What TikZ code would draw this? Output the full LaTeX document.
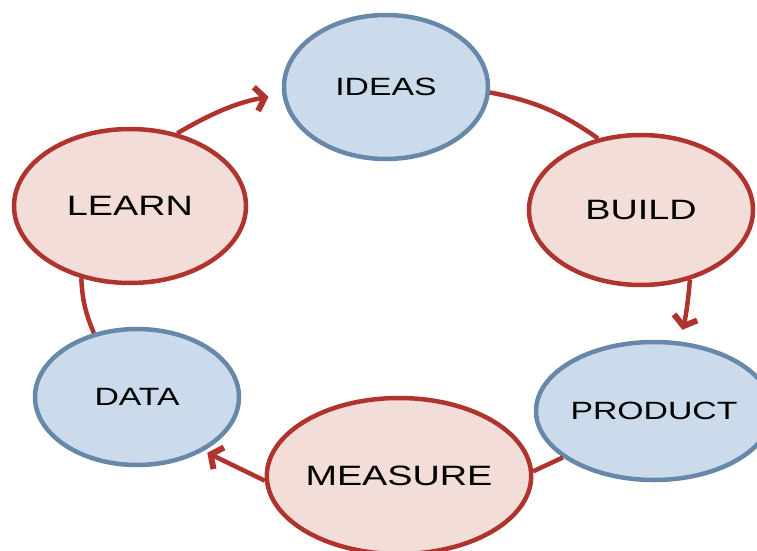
\documentclass[tikz,border=0pt]{standalone}
\usepackage{fontspec}
\setmainfont{Liberation Sans}
\usepackage{graphicx}
\usetikzlibrary{arrows.meta,shapes.geometric,positioning}

\definecolor{redline}{RGB}{176,52,46}
\definecolor{redfill}{RGB}{242,221,216}
\definecolor{blueline}{RGB}{104,136,170}
\definecolor{bluefill}{RGB}{203,219,236}
\newcommand{\wtext}[1]{\scalebox{1.35}[1]{#1}}

\begin{document}
\begin{tikzpicture}[x=1pt,y=1pt,line width=4.5pt,
    redcirc/.style={ellipse,draw=redline,fill=redfill,inner sep=0pt,font=\fontsize{28}{28}\selectfont},
    bluecirc/.style={ellipse,draw=blueline,fill=bluefill,inner sep=0pt,font=\fontsize{25}{25}\selectfont},
    link/.style={draw=redline,line width=4.5pt},
    arrowlink/.style={link,-{Straight Barb[length=9pt,width=24pt,line width=6pt]}}]

        \useasboundingbox (0,0) rectangle (757,550);

        \node[bluecirc,minimum width=204pt,minimum height=144pt] (ideas) at (386,463) {\wtext{IDEAS}};
        \node[redcirc,minimum width=224pt,minimum height=150pt] (build) at (641,340) {\wtext{BUILD}};
        \node[bluecirc,minimum width=196pt,minimum height=138pt] (product) at (654,139) {\wtext{PRODUCT}};
        \node[redcirc,minimum width=234pt,minimum height=156pt] (measure) at (399,74) {\wtext{MEASURE}};
        \node[bluecirc,minimum width=204pt,minimum height=136pt] (data) at (137,153) {\wtext{DATA}};
        \node[redcirc,minimum width=232pt,minimum height=154pt] (learn) at (130,344) {\wtext{LEARN}};

        \draw[arrowlink,shorten >=14pt] (learn.57) to[bend left=10] (ideas.184);
        \draw[link] (ideas.-3) to[bend left=12] (build.121);
        \draw[arrowlink,shorten >=12pt] (build.-55) to[bend left=5] (product.70);
        \draw[link] (measure.2) -- (product.207);
        \draw[arrowlink,shorten >=4pt] (measure.182) -- (data.-39);
        \draw[link] (learn.236) to[bend right=10] (data.124);

      \end{tikzpicture}
\end{document}
